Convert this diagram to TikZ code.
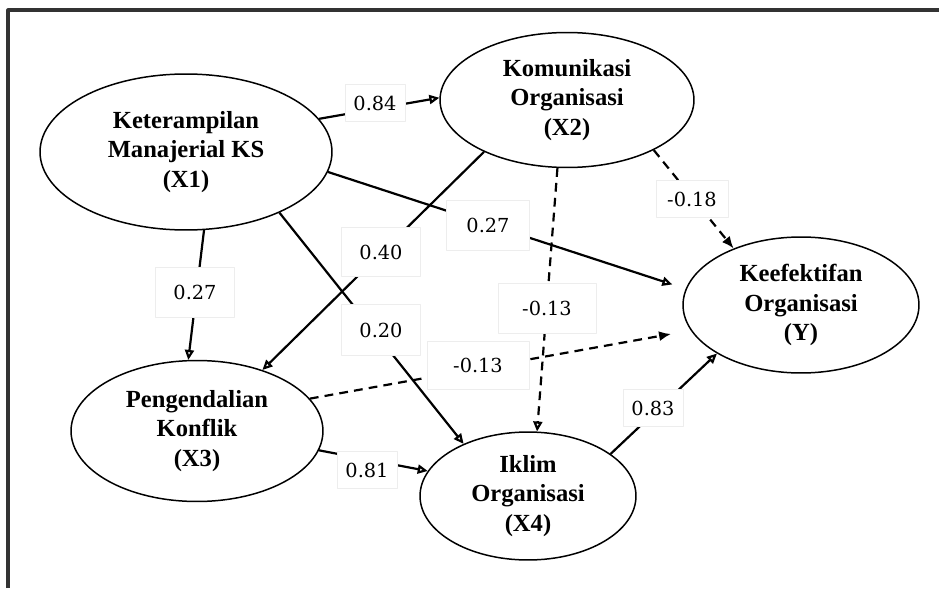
\documentclass[tikz,border=0pt]{standalone}
\usepackage{fontspec}
\setmainfont{Liberation Serif}
\newfontfamily\numfont{DejaVu Serif}
\usetikzlibrary{arrows.meta,shapes.geometric}

\begin{document}
\begin{tikzpicture}[x=0.02cm, y=-0.02cm, line join=round,
	var/.style={draw, ellipse, line width=0.85pt, inner sep=0pt, align=center, font=\bfseries\fontsize{14}{17}\selectfont},
	coef/.style={fill=white, draw=black!7, inner sep=0pt, minimum width=1.2cm, minimum height=0.74cm, font=\numfont\fontsize{11}{13}\selectfont},
	eff/.style={line width=1.25pt, -{Triangle[open,length=2mm,width=1.8mm]}},
	neg/.style={line width=1.25pt, dash pattern=on 5pt off 3.5pt, -{Latex[length=2.4mm,width=2mm]}},
	negopen/.style={line width=1.25pt, dash pattern=on 5pt off 3.5pt, -{Triangle[open,length=2mm,width=1.8mm]}}]
	\useasboundingbox (0,0) rectangle (939,588);
	% frame
	\draw[line width=1.8pt, black!80] (8,588) -- (8,10) -- (939,10);
	% variables
	\node[var, minimum width=5.84cm, minimum height=3.12cm] (x1) at (186,152) {Keterampilan\\Manajerial KS\\(X1)};
	\node[var, minimum width=5.08cm, minimum height=2.7cm] (x2) at (567,100) {Komunikasi\\Organisasi\\(X2)};
	\node[var, minimum width=5.04cm, minimum height=2.82cm] (x3) at (197,431) {Pengendalian\\Konflik\\(X3)};
	\node[var, minimum width=4.32cm, minimum height=2.56cm] (x4) at (528,496) {Iklim\\Organisasi\\(X4)};
	\node[var, minimum width=4.72cm, minimum height=2.72cm] (y) at (801,305) {Keefektifan\\Organisasi\\(Y)};
	% paths
	\draw[eff] (x1.14) -- (x2.179);
	\draw[eff] (x1.283) -- (x3.97);
	\draw[eff] (x2.212) -- (x3.43);
	\draw[eff, shorten >=0.28cm] (x1.352) -- (y.172);
	\draw[eff] (x1.327) -- (x4.141);
	\draw[negopen] (x2.262) -- (x4.82);
	\draw[neg] (x2.330) -- (y.140);
	\draw[neg, shorten >=0.4cm] (x3.16) -- (y.193);
	\draw[eff] (x3.351) -- (x4.166);
	\draw[eff] (x4.27) -- (y.210);
	% coefficients
	\node[coef] (c12) at (375,103) {0.84};
	\node[coef, minimum width=1.58cm, minimum height=1cm] (c13) at (195,292) {0.27};
	\node[coef, minimum width=1.58cm, minimum height=0.98cm] (c23) at (381,252) {0.40};
	\node[coef, minimum width=1.66cm, minimum height=1cm] (c1y) at (488,225) {0.27};
	\node[coef, minimum width=1.44cm] (c2y) at (692,199) {-0.18};
	\node[coef, minimum width=1.96cm, minimum height=1cm] (c24) at (547,308) {-0.13};
	\node[coef, minimum width=1.58cm, minimum height=1.02cm] (c14) at (381,330) {0.20};
	\node[coef, minimum width=2.04cm, minimum height=0.96cm] (c3y) at (478,365) {-0.13};
	\node[coef] (c34) at (367,470) {0.81};
	\node[coef] (c4y) at (653,408) {0.83};
\end{tikzpicture}
\end{document}
